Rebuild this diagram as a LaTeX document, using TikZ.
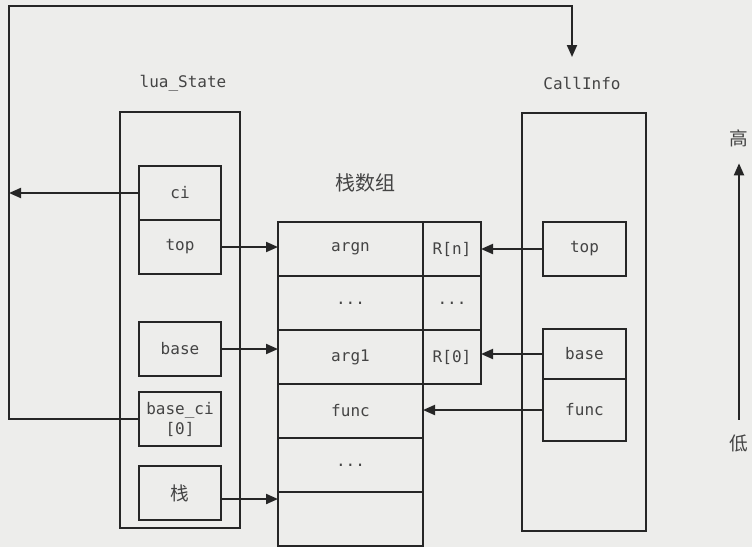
\documentclass[tikz,border=0pt]{standalone}
\usepackage{fontspec}
\setmonofont{DejaVu Sans Mono}
\newfontfamily\cjk{Noto Sans CJK SC}
\usetikzlibrary{arrows.meta,positioning}
\newlength{\pxu}\setlength{\pxu}{0.75pt}
\definecolor{paper}{RGB}{237,237,235}
\definecolor{ink}{RGB}{38,38,38}
\definecolor{lettering}{RGB}{68,68,68}

\begin{document}
\begin{tikzpicture}[
    x=0.75pt, y=-0.75pt,
    node distance=0pt,
    every node/.style={text=lettering, font=\ttfamily\fontsize{12}{14}\selectfont},
    frame/.style={draw=ink, line width=1.5pt, outer sep=0pt, inner sep=0pt},
    field/.style={frame, minimum width=82\pxu, minimum height=54\pxu},
    slot/.style={frame, minimum width=145\pxu, minimum height=54\pxu},
    reg/.style={frame, minimum width=58\pxu, minimum height=54\pxu},
    han/.style={font=\cjk\fontsize{14}{16}\selectfont},
    arrow/.style={-{Triangle[length=9pt,width=7.5pt]}, draw=ink, line width=1.5pt}
]
    \fill[paper] (0,0) rectangle (752,547);
    \useasboundingbox (0,0) rectangle (752,547);

    % lua_State
    \node (lstitle) at (183,83) {lua\_State};
    \node[frame, minimum width=120\pxu, minimum height=416\pxu] (ls) at (180,320) {};
    \node[field] (ci) at (180,193) {ci};
    \node[field, below=of ci] (ltop) {top};
    \node[field, below=48\pxu of ltop] (lbase) {base};
    \node[field, below=16\pxu of lbase, align=center,
          font=\ttfamily\fontsize{12}{15}\selectfont] (baseci) {base\_ci\\{[0]}};
    \node[field, han, below=20\pxu of baseci] (lstack) {栈};

    % stack array
    \node[han, font=\cjk\fontsize{15}{17}\selectfont] (stitle) at (365,183) {栈数组};
    \node[slot] (argn) at (350.5,249) {argn};
    \node[reg, right=of argn] (rn) {R[n]};
    \node[slot, below=of argn] (dota) {...};
    \node[reg, right=of dota] (dotr) {...};
    \node[slot, below=of dota] (arg1) {arg1};
    \node[reg, right=of arg1] (r0) {R[0]};
    \node[slot, below=of arg1] (func) {func};
    \node[slot, below=of func] (dotb) {...};
    \node[slot, below=of dotb] (sbot) {};

    % CallInfo
    \node (cititle) at (582,83) {CallInfo};
    \node[frame, minimum width=124\pxu, minimum height=418\pxu] (cinfo) at (584,322) {};
    \node[field, minimum width=83\pxu] (ctop) at (584.5,249) {top};
    \node[field, minimum width=83\pxu, minimum height=50\pxu] (cbase) at (584.5,354) {base};
    \node[field, minimum width=83\pxu, minimum height=62\pxu, below=of cbase] (cfunc) {func};

    % high / low
    \node[han] (high) at (739,138) {高};
    \node[han] (low) at (739,443) {低};

    % connectors
    \coordinate (corner) at (9,6);
    \coordinate (hook) at (572,57);
    \draw[arrow] (baseci.west) -| (corner) -| (hook);
    \draw[arrow] (ci.west) -- (ci.west -| corner);
    \draw[arrow] (ltop.east) -- (ltop.east -| argn.west);
    \draw[arrow] (lbase.east) -- (lbase.east -| arg1.west);
    \draw[arrow] ([yshift=-6\pxu]lstack.east) -- ([yshift=-6\pxu]lstack.east -| sbot.west);
    \draw[arrow] (ctop.west) -- (ctop.west -| rn.east);
    \draw[arrow] (cbase.west) -- (cbase.west -| r0.east);
    \draw[arrow] (cfunc.west) -- (cfunc.west -| func.east);
    \draw[arrow, shorten <=10\pxu, shorten >=12\pxu] (low.north) -- (high.south);
\end{tikzpicture}
\end{document}
